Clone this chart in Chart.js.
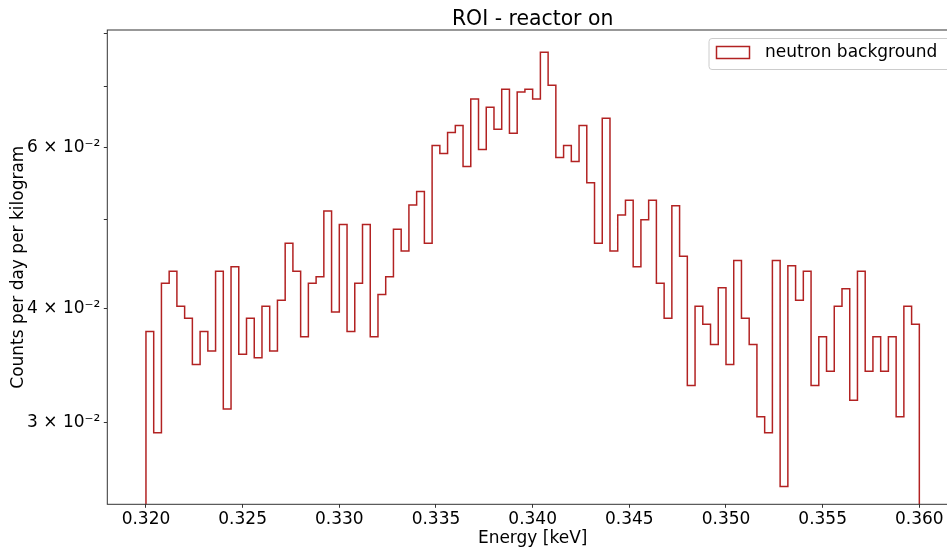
<!DOCTYPE html>
<html>
<head>
<meta charset="utf-8">
<script src="https://cdn.jsdelivr.net/npm/chart.js@4"></script>
<style>
  html, body { margin: 0; padding: 0; background: #fff; overflow: hidden; }
</style>
</head>
<body>
<canvas id="roi" width="958" height="550"></canvas>
<script>
// histogram: 100 bins between 0.320 and 0.360 keV
var binLo = 0.320;
var binHi = 0.360;
var counts = [
  0.0377, 0.0292, 0.0426, 0.0439, 0.0402, 0.0390, 0.0347, 0.0377, 0.0359, 0.0439,
  0.0310, 0.0444, 0.0356, 0.0390, 0.0353, 0.0402, 0.0359, 0.0408, 0.0471, 0.0439,
  0.0372, 0.0426, 0.0433, 0.0511, 0.0396, 0.0494, 0.0377, 0.0426, 0.0494, 0.0372,
  0.0414, 0.0433, 0.0488, 0.0462, 0.0519, 0.0537, 0.0471, 0.0603, 0.0591, 0.0623,
  0.0634, 0.0572, 0.0678, 0.0597, 0.0664, 0.0628, 0.0695, 0.0622, 0.0690, 0.0695,
  0.0678, 0.0763, 0.0702, 0.0585, 0.0603, 0.0579, 0.0634, 0.0549, 0.0471, 0.0646,
  0.0462, 0.0506, 0.0525, 0.0444, 0.0500, 0.0525, 0.0426, 0.0390, 0.0518, 0.0456,
  0.0329, 0.0402, 0.0384, 0.0365, 0.0421, 0.0347, 0.0451, 0.0390, 0.0365, 0.0304,
  0.0292, 0.0451, 0.0255, 0.0445, 0.0408, 0.0439, 0.0329, 0.0372, 0.0341, 0.0402,
  0.0420, 0.0317, 0.0439, 0.0341, 0.0372, 0.0341, 0.0372, 0.0304, 0.0402, 0.0384
];
var xTickValues = [0.320, 0.325, 0.330, 0.335, 0.340, 0.345, 0.350, 0.355, 0.360];
var yTickValues = [0.03, 0.04, 0.05, 0.06, 0.07, 0.08];
var yTickLabels = ['3 \u00d7 10\u207b\u00b2', '4 \u00d7 10\u207b\u00b2', '', '6 \u00d7 10\u207b\u00b2', '', ''];

var font = 'DejaVu Sans';
var lineColor = '#b22222';

// step outline, closed down to the (clipped) baseline at both ends
var width = (binHi - binLo) / counts.length;
var floor = 0.001;
var points = [{ x: binLo, y: floor }];
counts.forEach(function (c, i) {
    points.push({ x: binLo + i * width, y: c });
});
points.push({ x: binHi, y: counts[counts.length - 1] });
points.push({ x: binHi, y: floor });

var frame = {
    id: 'frame',
    afterDraw: function (chart) {
        var c = chart.ctx, a = chart.chartArea;
        c.save();
        c.strokeStyle = '#333';
        c.lineWidth = 1;
        c.strokeRect(a.left, a.top, a.right - a.left, a.bottom - a.top);

        // title
        c.fillStyle = '#000';
        c.font = '20.4px "' + font + '"';
        c.textAlign = 'center';
        c.textBaseline = 'alphabetic';
        c.fillText('ROI - reactor on', (a.left + a.right) / 2, 24.5);

        // legend (runs past the right edge like the original crop)
        c.font = '17px "' + font + '"';
        var label = 'neutron background';
        var tw = c.measureText(label).width;
        var bx = 709, by = 38.5, bw = 14 + 34 + 14 + tw + 20, bh = 31;
        c.fillStyle = 'rgba(255,255,255,0.8)';
        c.strokeStyle = '#cccccc';
        c.lineWidth = 1;
        c.beginPath();
        c.roundRect(bx, by, bw, bh, 3);
        c.fill();
        c.stroke();
        c.strokeStyle = lineColor;
        c.lineWidth = 1.5;
        c.strokeRect(716.5, 46.5, 33, 12);
        c.fillStyle = '#000';
        c.textAlign = 'left';
        c.textBaseline = 'middle';
        c.fillText(label, 765, 53);
        c.restore();
    }
};

var ctx = document.getElementById('roi').getContext('2d');
var chart = new Chart(ctx, {
    type: 'line',
    data: {
        datasets: [{
            label: 'neutron background',
            data: points,
            borderColor: lineColor,
            borderWidth: 1.5,
            pointRadius: 0,
            fill: false,
            stepped: true,
            tension: 0
        }]
    },
    options: {
        responsive: false,
        animation: false,
        layout: { padding: { top: 30, left: 0, right: 0, bottom: 0 } },
        plugins: {
            legend: { display: false },
            title: { display: false },
            tooltip: { enabled: false }
        },
        scales: {
            x: {
                type: 'linear',
                min: 0.318,
                max: 0.362,
                afterFit: function (s) { s.height = 45.7; },
                afterBuildTicks: function (s) {
                    s.ticks = xTickValues.map(function (v) { return { value: v }; });
                },
                border: { display: false },
                grid: { drawOnChartArea: false, tickLength: 3.5, tickColor: '#333' },
                ticks: {
                    autoSkip: false,
                    maxRotation: 0,
                    padding: 2,
                    color: '#000',
                    font: { family: font, size: 17 },
                    callback: function (v) { return v.toFixed(3); }
                },
                title: {
                    display: true,
                    text: 'Energy [keV]',
                    color: '#000',
                    font: { family: font, size: 17 },
                    padding: { top: 0, bottom: 1 }
                }
            },
            y: {
                type: 'logarithmic',
                min: 0.02438,
                max: 0.0807,
                afterFit: function (s) { s.width = 107.3; },
                afterBuildTicks: function (s) {
                    s.ticks = yTickValues.map(function (v) { return { value: v }; });
                },
                border: { display: false },
                grid: { drawOnChartArea: false, tickLength: 3.5, tickColor: '#333' },
                ticks: {
                    autoSkip: false,
                    padding: 3.5,
                    color: '#000',
                    font: { family: font, size: 17 },
                    callback: function (v, i) { return yTickLabels[i]; }
                },
                title: {
                    display: true,
                    text: 'Counts per day per kilogram',
                    color: '#000',
                    font: { family: font, size: 17 },
                    padding: { top: 8, bottom: 0 }
                }
            }
        }
    },
    plugins: [frame]
});
</script>
</body>
</html>
